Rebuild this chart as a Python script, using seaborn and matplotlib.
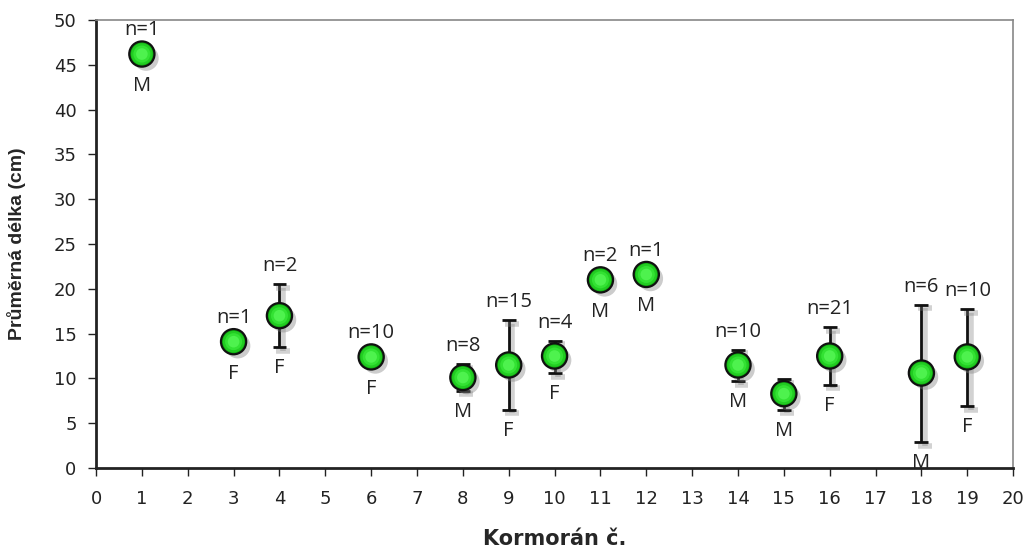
import matplotlib
matplotlib.use("Agg")
import matplotlib.pyplot as plt
import matplotlib.patheffects as pe
import seaborn as sns
import pandas as pd
import numpy as np

kormoran = [1, 3, 4, 6, 8, 9, 10, 11, 12, 14, 15, 16, 18, 19]
mean_len = [46.2, 14.1, 17.0, 12.4, 10.1, 11.5, 12.5, 21.0, 21.6, 11.5, 8.3, 12.5, 10.6, 12.4]
err_hi = [0, 0, 20.5, 0, 11.6, 16.5, 14.2, 0, 0, 13.2, 9.9, 15.7, 18.2, 17.7]
err_lo = [0, 0, 13.5, 0, 8.6, 6.5, 10.6, 0, 0, 9.7, 6.5, 9.3, 2.9, 6.9]
n_count = [1, 1, 2, 10, 8, 15, 4, 2, 1, 10, None, 21, 6, 10]
sex = ["M", "F", "F", "F", "M", "F", "F", "M", "M", "M", "M", "F", "M", "F"]

df = pd.DataFrame({"x": kormoran, "y": mean_len, "hi": err_hi, "lo": err_lo,
                   "n": n_count, "sex": sex})

sns.set_style("white")
plt.rcParams["font.family"] = ["DejaVu Sans"]

fig = plt.figure(figsize=(10.27, 5.49), dpi=100)
ax = fig.add_axes([0.0935, 0.1475, 0.893, 0.8161])

has_err = df[df["hi"] > 0]
shadow_line = [pe.SimpleLineShadow(offset=(2.5, -2.5), shadow_color="gray", alpha=0.35, linewidth=4), pe.Normal()]
eb = ax.errorbar(has_err["x"], has_err["y"],
                 yerr=[has_err["y"] - has_err["lo"], has_err["hi"] - has_err["y"]],
                 fmt="none", ecolor="#111111", elinewidth=2, capsize=5, capthick=2, zorder=2)
for line in eb.lines[1]:
    line.set_path_effects(shadow_line)
for coll in eb.lines[2]:
    coll.set_path_effects(shadow_line)

sns.scatterplot(data=df, x="x", y="y", ax=ax, s=330, color="#10a810",
                edgecolor="#111111", linewidth=1.6, zorder=3, legend=False)
ax.collections[-1].set_path_effects([pe.SimplePatchShadow(offset=(3, -3), shadow_rgbFace="gray", alpha=0.4), pe.Normal()])
sns.scatterplot(data=df, x="x", y="y", ax=ax, s=240, color="#22cc22",
                edgecolor="none", linewidth=0, zorder=4, legend=False)
sns.scatterplot(data=df, x="x", y="y", ax=ax, s=150, color="#33e233",
                edgecolor="none", linewidth=0, zorder=5, legend=False)
sns.scatterplot(data=df, x="x", y="y", ax=ax, s=70, color="#4ef24e",
                edgecolor="none", linewidth=0, zorder=6, legend=False)

ann_font = dict(family=["Open Sans", "DejaVu Sans"], fontsize=14.5, color="#222222")
for _, r in df.iterrows():
    has = r["hi"] > 0
    top = r["hi"] if has else r["y"]
    bot = r["lo"] if has else r["y"]
    up = 13 if has else 17
    dn = 15 if has else 23
    if pd.notna(r["n"]):
        ax.annotate(f"n={int(r['n'])}", (r["x"], top), xytext=(0, up), textcoords="offset points",
                    ha="center", va="center", **ann_font)
    ax.annotate(r["sex"], (r["x"], bot), xytext=(0, -dn), textcoords="offset points",
                ha="center", va="center", **ann_font)

ax.set_xlim(0, 20)
ax.set_ylim(0, 50)
ax.set_xticks(range(0, 21))
ax.set_yticks(range(0, 51, 5))
ax.tick_params(axis="both", direction="out", length=6, width=1, colors="#222222",
               labelsize=13, bottom=True, left=True)
ax.tick_params(axis="x", pad=10)
ax.tick_params(axis="y", pad=8)
for s in ["left", "bottom"]:
    ax.spines[s].set_color("#222222")
    ax.spines[s].set_linewidth(2)
for s in ["top", "right"]:
    ax.spines[s].set_color("#888888")
    ax.spines[s].set_linewidth(1.2)

ax.set_xlabel("Kormorán č.", fontsize=15, fontweight="bold", labelpad=15)
ax.set_ylabel("Průměrná délka (cm)", fontsize=14, fontweight="bold", labelpad=20,
              family=["Liberation Sans", "DejaVu Sans"])

fig.savefig("out.png", dpi=100)
